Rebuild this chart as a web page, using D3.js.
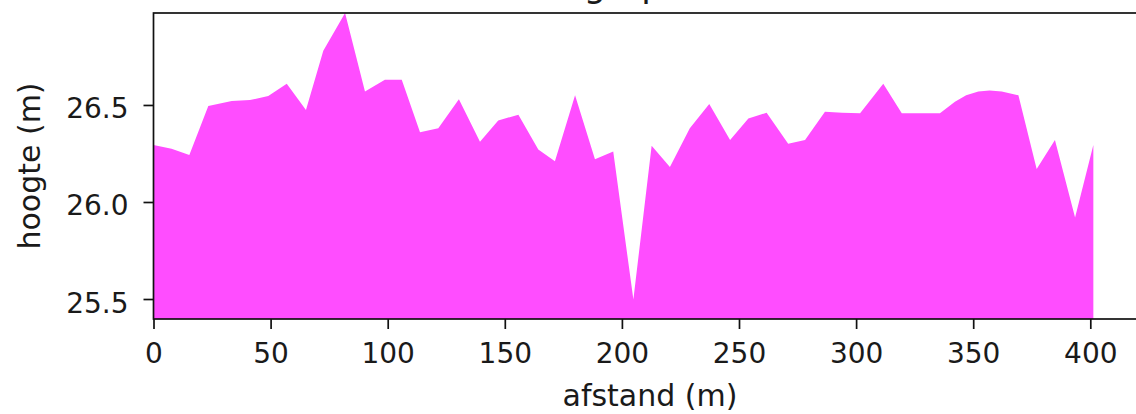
<!DOCTYPE html>
<html>
<head>
<meta charset="utf-8">
<script src="https://cdn.jsdelivr.net/npm/d3@7"></script>
<style>
  html, body { margin: 0; padding: 0; background: #fff; }
  text { font-family: "DejaVu Sans", sans-serif; fill: #1a1a1a; }
</style>
</head>
<body>
<div id="chart"></div>
<script>
// profile: distance (m) and height (m)
const distances = [0, 7.7, 15.3, 23.4, 33.4, 41.2, 49, 56.9, 65.1, 72.5, 81.8, 90.3, 98.8, 106, 113.8, 121.6, 130.4, 139.4, 147.2, 155.8,
  164.3, 171.4, 180, 188.5, 196.3, 204.9, 212.7, 220.5, 229, 237.3, 246.2, 254, 261.8, 271, 278.2, 286.7, 294, 301.7, 311.6, 319.5,
  327.5, 335.8, 342.2, 347, 352.2, 357, 362.2, 369.3, 377.1, 384.9, 393.5, 401.3];
const heights = [26.294, 26.275, 26.242, 26.495, 26.52, 26.525, 26.546, 26.61, 26.474, 26.78, 26.974, 26.57, 26.63, 26.63, 26.36, 26.38, 26.53, 26.31, 26.42, 26.45,
  26.27, 26.21, 26.55, 26.22, 26.26, 25.497, 26.29, 26.18, 26.38, 26.505, 26.32, 26.43, 26.46, 26.30, 26.32, 26.465, 26.46, 26.457, 26.61, 26.457,
  26.457, 26.457, 26.517, 26.55, 26.57, 26.575, 26.57, 26.55, 26.17, 26.32, 25.92, 26.294];
const xTicks = [0, 50, 100, 150, 200, 250, 300, 350, 400];
const yTicks = [25.5, 26.0, 26.5];
const xMax = 424;

const width = 1136;
const height = 414;
const m = { left: 153.5, top: 13, bottom: 319 };
m.right = m.left + xMax * 2.342;

const svg = d3.select("#chart").append("svg").attr("width", width).attr("height", height);

const x = d3.scaleLinear().domain([0, xMax]).range([m.left, m.right]);
const y = d3.scaleLinear().domain([d3.min(heights) - 0.1, d3.max(heights)]).range([m.bottom, m.top]);

svg.append("clipPath").attr("id", "clip").append("rect")
  .attr("x", m.left).attr("y", m.top).attr("width", m.right - m.left).attr("height", m.bottom - m.top);

const points = distances.map((d, i) => ({ dist: d, h: heights[i] }));
const area = d3.area().x(d => x(d.dist)).y0(m.bottom).y1(d => y(d.h));
svg.append("path").datum(points).attr("clip-path", "url(#clip)")
  .attr("d", area).attr("fill", "#ff4dff");

// axes
const xAxis = svg.append("g").attr("transform", `translate(0,${m.bottom})`)
  .call(d3.axisBottom(x).tickValues(xTicks).tickSize(10).tickFormat(d3.format("d")));
xAxis.select(".domain").remove();
xAxis.selectAll(".tick line").attr("stroke", "#111").attr("stroke-width", 1.7);
xAxis.selectAll(".tick text").attr("y", 44).attr("dy", null).attr("font-size", 28);

const yAxis = svg.append("g").attr("transform", `translate(${m.left},0)`)
  .call(d3.axisLeft(y).tickValues(yTicks).tickSize(10).tickFormat(d3.format(".1f")));
yAxis.select(".domain").remove();
yAxis.selectAll(".tick line").attr("stroke", "#111").attr("stroke-width", 1.7);
yAxis.selectAll(".tick text").attr("x", -25).attr("dy", 13).attr("font-size", 28);
svg.selectAll(".tick text").attr("font-family", "DejaVu Sans").attr("fill", "#1a1a1a");

// spines
svg.append("rect").attr("x", m.left).attr("y", m.top).attr("width", m.right - m.left).attr("height", m.bottom - m.top)
  .attr("fill", "none").attr("stroke", "#111").attr("stroke-width", 1.7);

svg.append("text").attr("x", (m.left + m.right) / 2).attr("y", 406).attr("text-anchor", "middle")
  .attr("font-size", 30).text("afstand (m)");
svg.append("text").attr("transform", `translate(40,${(m.top + m.bottom) / 2}) rotate(-90)`)
  .attr("text-anchor", "middle").attr("font-size", 30).text("hoogte (m)");

// title, mostly above the visible area
svg.append("text").attr("x", (m.left + m.right) / 2).attr("y", -3).attr("text-anchor", "middle")
  .attr("font-size", 35).text("Hoogteprofiel 1");
</script>
</body>
</html>
